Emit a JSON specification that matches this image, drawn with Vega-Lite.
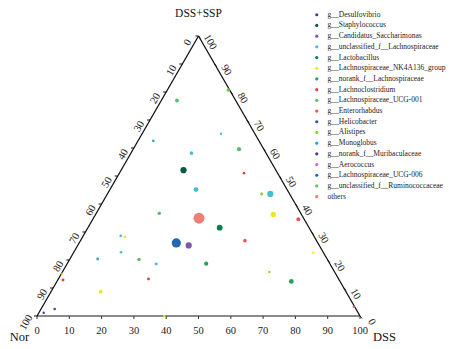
{
  "$schema": "https://vega.github.io/schema/vega-lite/v6.json",
  "width": 323,
  "height": 280,
  "autosize": {"type": "none"},
  "padding": {"left": 37, "top": 36, "right": 91, "bottom": 33},
  "background": "white",
  "config": {"view": {"stroke": null}, "text": {"font": "Liberation Serif"}},
  "datasets": {
    "edges": [
      {"x": 0, "y": 0, "x2": 50, "y2": 86.6},
      {"x": 50, "y": 86.6, "x2": 100, "y2": 0}
    ],
    "base": [{"x": 0, "y": 0, "x2": 100, "y2": 0}],
    "bottomTicks": [
      {"v": "0", "x": 0, "y": 0}, {"v": "10", "x": 10, "y": 0}, {"v": "20", "x": 20, "y": 0},
      {"v": "30", "x": 30, "y": 0}, {"v": "40", "x": 40, "y": 0}, {"v": "50", "x": 50, "y": 0},
      {"v": "60", "x": 60, "y": 0}, {"v": "70", "x": 70, "y": 0}, {"v": "80", "x": 80, "y": 0},
      {"v": "90", "x": 90, "y": 0}, {"v": "100", "x": 100, "y": 0}
    ],
    "leftTicks": [
      {"v": "0", "x": 50, "y": 86.6}, {"v": "10", "x": 45, "y": 77.94}, {"v": "20", "x": 40, "y": 69.28},
      {"v": "30", "x": 35, "y": 60.62}, {"v": "40", "x": 30, "y": 51.96}, {"v": "50", "x": 25, "y": 43.3},
      {"v": "60", "x": 20, "y": 34.64}, {"v": "70", "x": 15, "y": 25.98}, {"v": "80", "x": 10, "y": 17.32},
      {"v": "90", "x": 5, "y": 8.66}, {"v": "100", "x": 0, "y": 0}
    ],
    "rightTicks": [
      {"v": "0", "x": 100, "y": 0}, {"v": "10", "x": 95, "y": 8.66}, {"v": "20", "x": 90, "y": 17.32},
      {"v": "30", "x": 85, "y": 25.98}, {"v": "40", "x": 80, "y": 34.64}, {"v": "50", "x": 75, "y": 43.3},
      {"v": "60", "x": 70, "y": 51.96}, {"v": "70", "x": 65, "y": 60.62}, {"v": "80", "x": 60, "y": 69.28},
      {"v": "90", "x": 55, "y": 77.94}, {"v": "100", "x": 50, "y": 86.6}
    ],
    "points": [
      {"genus": "g__Lachnospiraceae_UCG-001", "x": 43.34, "y": 66.66, "abund": 1.1},
      {"genus": "g__unclassified_f__Ruminococcaceae", "x": 59.23, "y": 69.88, "abund": 0.9},
      {"genus": "g__Monoglobus", "x": 36.01, "y": 54.18, "abund": 0.5},
      {"genus": "g__unclassified_f__Lachnospiraceae", "x": 56.97, "y": 56.35, "abund": 0.4},
      {"genus": "g__unclassified_f__Lachnospiraceae", "x": 47.83, "y": 50.37, "abund": 0.9},
      {"genus": "g__Lachnospiraceae_UCG-001", "x": 62.54, "y": 51.61, "abund": 1.3},
      {"genus": "g__Staphylococcus", "x": 45.36, "y": 45.11, "abund": 2.7},
      {"genus": "g__Lachnoclostridium", "x": 64.09, "y": 44.18, "abund": 0.5},
      {"genus": "g__unclassified_f__Lachnospiraceae", "x": 49.23, "y": 39.1, "abund": 1.7},
      {"genus": "g__Alistipes", "x": 69.57, "y": 37.77, "abund": 0.7},
      {"genus": "g__unclassified_f__Lachnospiraceae", "x": 72.23, "y": 37.77, "abund": 2.7},
      {"genus": "g__Lachnospiraceae_UCG-001", "x": 37.86, "y": 31.8, "abund": 0.9},
      {"genus": "others", "x": 50.15, "y": 30.25, "abund": 8.7},
      {"genus": "g__Lachnospiraceae_NK4A136_group", "x": 73.16, "y": 31.42, "abund": 2.0},
      {"genus": "g__Enterorhabdus", "x": 80.9, "y": 29.94, "abund": 1.1},
      {"genus": "g__Lactobacillus", "x": 56.56, "y": 27.31, "abund": 2.35},
      {"genus": "g__unclassified_f__Lachnospiraceae", "x": 25.91, "y": 24.77, "abund": 0.5},
      {"genus": "g__Lachnospiraceae_NK4A136_group", "x": 27.24, "y": 24.46, "abund": 0.5},
      {"genus": "g__Lachnospiraceae_UCG-006", "x": 43.13, "y": 22.6, "abund": 6.1},
      {"genus": "g__Candidatus_Saccharimonas", "x": 46.97, "y": 21.83, "abund": 2.7},
      {"genus": "g__Enterorhabdus", "x": 64.37, "y": 23.31, "abund": 0.9},
      {"genus": "g__unclassified_f__Lachnospiraceae", "x": 26.01, "y": 19.72, "abund": 0.5},
      {"genus": "g__Monoglobus", "x": 18.79, "y": 17.65, "abund": 0.6},
      {"genus": "g__Lachnospiraceae_UCG-001", "x": 31.58, "y": 17.49, "abund": 0.9},
      {"genus": "g__unclassified_f__Lachnospiraceae", "x": 36.93, "y": 16.1, "abund": 0.6},
      {"genus": "g__norank_f__Lachnospiraceae", "x": 52.38, "y": 16.19, "abund": 1.2},
      {"genus": "g__Lachnospiraceae_NK4A136_group", "x": 7.83, "y": 13.0, "abund": 0.35},
      {"genus": "g__Lachnoclostridium", "x": 8.05, "y": 11.15, "abund": 0.6},
      {"genus": "g__Lachnoclostridium", "x": 34.52, "y": 11.46, "abund": 0.6},
      {"genus": "g__Lachnospiraceae_NK4A136_group", "x": 19.72, "y": 7.52, "abund": 1.0},
      {"genus": "g__Helicobacter", "x": 5.48, "y": 2.17, "abund": 0.5},
      {"genus": "g__Desulfovibrio", "x": 2.07, "y": 1.02, "abund": 0.4},
      {"genus": "g__Lachnospiraceae_NK4A136_group", "x": 39.41, "y": 0, "abund": 0.4},
      {"genus": "g__Lachnospiraceae_NK4A136_group", "x": 85.54, "y": 19.6, "abund": 0.4},
      {"genus": "g__Alistipes", "x": 71.92, "y": 13.62, "abund": 0.4},
      {"genus": "g__norank_f__Lachnospiraceae", "x": 78.73, "y": 10.68, "abund": 1.6},
      {"genus": "g__Aerococcus", "x": 98.05, "y": 2.88, "abund": 0.4}
    ]
  },
  "encoding": {
    "x": {"field": "x", "type": "quantitative", "scale": {"domain": [0, 100], "nice": false, "zero": false}, "axis": null},
    "y": {"field": "y", "type": "quantitative", "scale": {"domain": [0, 86.6], "nice": false, "zero": false}, "axis": null}
  },
  "layer": [
    {
      "data": {"name": "base"},
      "mark": {"type": "rule", "color": "#8a8a8a", "strokeWidth": 2},
      "encoding": {"x2": {"field": "x2"}, "y2": {"field": "y2"}}
    },
    {
      "data": {"name": "edges"},
      "mark": {"type": "rule", "color": "#111111", "strokeWidth": 1.3},
      "encoding": {"x2": {"field": "x2"}, "y2": {"field": "y2"}}
    },
    {
      "data": {"name": "bottomTicks"},
      "mark": {"type": "rule", "color": "#333333", "strokeWidth": 1, "y2Offset": 3},
      "encoding": {"x2": {"field": "x"}, "y2": {"field": "y"}}
    },
    {
      "data": {"name": "leftTicks"},
      "mark": {"type": "rule", "color": "#111111", "strokeWidth": 1, "x2Offset": -3},
      "encoding": {"x2": {"field": "x"}, "y2": {"field": "y"}}
    },
    {
      "data": {"name": "rightTicks"},
      "mark": {"type": "rule", "color": "#111111", "strokeWidth": 1, "x2Offset": 2, "y2Offset": 2.5},
      "encoding": {"x2": {"field": "x"}, "y2": {"field": "y"}}
    },
    {
      "data": {"name": "bottomTicks"},
      "mark": {"type": "text", "fontSize": 10.5, "dy": 15, "align": "center", "baseline": "middle", "color": "#222222"},
      "encoding": {"text": {"field": "v"}}
    },
    {
      "data": {"name": "leftTicks"},
      "mark": {"type": "text", "fontSize": 10.5, "dx": -11, "dy": -6, "angle": -60, "align": "center", "baseline": "middle", "color": "#222222"},
      "encoding": {"text": {"field": "v"}}
    },
    {
      "data": {"name": "rightTicks"},
      "mark": {"type": "text", "fontSize": 10.5, "dx": 11, "dy": -7, "angle": 60, "align": "center", "baseline": "middle", "color": "#222222"},
      "encoding": {"text": {"field": "v"}}
    },
    {
      "data": {"values": [{"label": "DSS+SSP", "x": 50, "y": 86.6}]},
      "mark": {"type": "text", "fontSize": 11.5, "dy": -22, "align": "center", "baseline": "middle", "color": "#111111"},
      "encoding": {"text": {"field": "label"}}
    },
    {
      "data": {"values": [{"label": "Nor", "x": 0, "y": 0}]},
      "mark": {"type": "text", "fontSize": 12.5, "dx": -17.5, "dy": 21, "align": "center", "baseline": "middle", "color": "#111111"},
      "encoding": {"text": {"field": "label"}}
    },
    {
      "data": {"values": [{"label": "DSS", "x": 100, "y": 0}]},
      "mark": {"type": "text", "fontSize": 12.5, "dx": 24.5, "dy": 21, "align": "center", "baseline": "middle", "color": "#111111"},
      "encoding": {"text": {"field": "label"}}
    },
    {
      "data": {"name": "points"},
      "mark": {"type": "circle", "opacity": 1},
      "encoding": {
        "size": {"field": "abund", "type": "quantitative", "scale": {"domain": [0, 10], "range": [0, 141], "zero": true}, "legend": null},
        "color": {
          "field": "genus",
          "type": "nominal",
          "scale": {
            "domain": [
              "g__Desulfovibrio", "g__Staphylococcus", "g__Candidatus_Saccharimonas",
              "g__unclassified_f__Lachnospiraceae", "g__Lactobacillus", "g__Lachnospiraceae_NK4A136_group",
              "g__norank_f__Lachnospiraceae", "g__Lachnoclostridium", "g__Lachnospiraceae_UCG-001",
              "g__Enterorhabdus", "g__Helicobacter", "g__Alistipes", "g__Monoglobus",
              "g__norank_f__Muribaculaceae", "g__Aerococcus", "g__Lachnospiraceae_UCG-006",
              "g__unclassified_f__Ruminococcaceae", "others"
            ],
            "range": [
              "#3b3f98", "#0b5a38", "#7d58ab", "#41bfd2", "#0b7d4b", "#f3e51d",
              "#22a350", "#e8413c", "#5cbe6c", "#e8545a", "#3f4ba0", "#9dcb3c",
              "#2fa1dd", "#3c3c99", "#cd6db7", "#2266b4", "#6cbf47", "#ee7f76"
            ]
          },
          "legend": {
            "title": null,
            "orient": "none",
            "legendX": 276,
            "legendY": -25,
            "padding": 0,
            "labelFont": "Liberation Serif",
            "labelFontSize": 7.5,
            "labelColor": "#222222",
            "labelOffset": 7,
            "labelLimit": 200,
            "symbolType": "circle",
            "symbolSize": 10,
            "symbolStrokeWidth": 0,
            "rowPadding": 1.7,
            "symbolLimit": 40
          }
        }
      }
    }
  ]
}
